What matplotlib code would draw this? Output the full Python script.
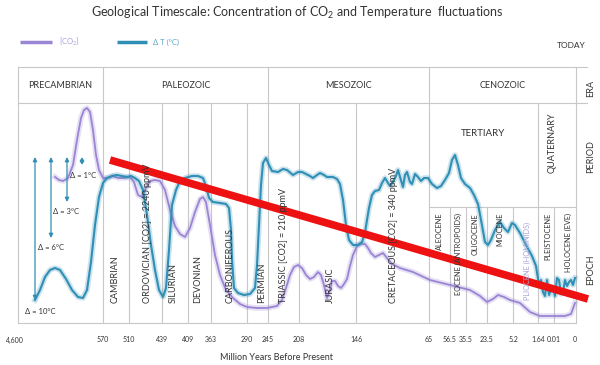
import matplotlib
matplotlib.use("Agg")
import matplotlib.pyplot as plt

plt.rcParams['font.family'] = ['Lato', 'DejaVu Sans']
plt.rcParams['mathtext.fontset'] = 'custom'
plt.rcParams['mathtext.rm'] = 'Lato'
plt.rcParams['mathtext.it'] = 'Lato:italic'

# ---------------- data (chart positions) ----------------
co2_pos = [55, 59, 63, 68, 73, 77, 81, 84, 87, 90, 93, 96, 99, 103, 108, 113, 118, 124, 130, 134,
           138, 142, 146, 150, 155, 160, 165, 170, 175, 180, 185, 190, 195, 200, 203, 206, 210, 215,
           220, 226, 233, 240, 247, 257, 267, 277, 282, 286, 290, 294, 298, 302, 306, 310, 314, 318,
           321, 324, 327, 330, 332, 335, 338, 341, 344, 347, 350, 353, 357, 361, 365, 368, 371, 375,
           379, 383, 387, 392, 400, 413, 430, 450, 470, 480, 487, 493, 498, 504, 510, 520, 530, 540,
           553, 565, 571, 575]
co2_level = [177, 180, 181, 178, 165, 140, 118, 110, 108, 112, 130, 155, 170, 178, 178, 176, 178, 178,
             177, 182, 195, 197, 188, 181, 180, 181, 190, 210, 226, 234, 237, 228, 212, 199, 197, 202,
             225, 255, 275, 290, 298, 304, 307, 308, 308, 306, 300, 288, 275, 267, 265, 268, 275, 279,
             277, 272, 275, 285, 298, 290, 281, 281, 286, 288, 284, 279, 266, 255, 246, 244, 244, 248,
             253, 257, 255, 253, 258, 264, 268, 272, 280, 285, 290, 296, 302, 299, 295, 297, 300, 303,
             312, 316, 316, 316, 314, 303]

temp_pos = [35, 40, 45, 50, 55, 60, 66, 72, 78, 83, 87, 91, 95, 99, 103, 107, 112, 117, 122, 127, 131,
            135, 139, 143, 147, 151, 155, 159, 163, 166, 169, 172, 176, 180, 185, 192, 198, 203, 206,
            209, 213, 220, 226, 229, 231, 232, 234, 238, 244, 250, 255, 257, 259, 261, 263, 266, 269,
            272, 278, 283, 287, 293, 298, 302, 306, 310, 313, 317, 320, 324, 327, 333, 337, 340, 343,
            346, 349, 353, 358, 362, 365, 367, 369, 372, 375, 379, 382, 385, 388, 390, 393, 396, 398,
            401, 403, 405, 407, 410, 412, 415, 418, 421, 424, 428, 432, 437, 441, 445, 449, 452, 455,
            458, 461, 465, 470, 474, 478, 481, 485, 488, 491, 495, 500, 504, 508, 512, 515, 520, 526,
            532, 536, 539, 541, 543, 545, 547, 549, 551, 553, 555, 557, 559, 561, 563, 565, 567, 569,
            571, 573, 575]
temp_level = [300, 290, 277, 270, 268, 270, 279, 290, 297, 298, 290, 262, 225, 197, 183, 178, 176, 175,
              176, 177, 176, 178, 181, 190, 215, 245, 270, 290, 297, 288, 250, 205, 190, 181, 178, 176,
              176, 178, 186, 198, 202, 203, 204, 208, 230, 260, 288, 293, 295, 294, 288, 265, 225, 185,
              163, 158, 165, 171, 172, 169, 170, 175, 172, 172, 174, 176, 178, 175, 173, 175, 177, 177,
              179, 184, 200, 225, 240, 245, 245, 242, 233, 220, 208, 195, 191, 190, 183, 178, 183, 186,
              182, 176, 170, 180, 187, 175, 172, 182, 184, 174, 177, 181, 178, 178, 184, 188, 186, 180,
              173, 160, 155, 165, 178, 184, 188, 195, 204, 220, 242, 245, 240, 230, 222, 228, 232, 223,
              225, 233, 245, 256, 266, 285, 280, 292, 296, 280, 295, 290, 288, 296, 278, 280, 294, 292,
              280, 286, 282, 280, 285, 278]

trend_pos = [110, 588]
trend_level = [160, 299]

tick_labels = ["4,600", "570", "510", "439", "409", "363", "290", "245", "208", "146",
               "65", "56.5", "35.5", "23.5", "5.2", "1.64", "0.01", "0"]
tick_pos = [18, 103, 129, 162, 188, 211, 247, 268, 299, 356, 429, 450, 466, 487, 513, 538, 554, 575]

eras = ["PRECAMBRIAN", "PALEOZOIC", "MESOZOIC", "CENOZOIC"]
era_bounds = [18, 103, 268, 429, 576]

period_lines = [129, 162, 188, 211, 247, 299, 356]
periods = ["CAMBRIAN", "ORDOVICIAN [CO2] = 2240 ppmV", "SILURIAN", "DEVONIAN", "CARBONIFEROUS",
           "PERMIAN", "TRIASSIC [CO2] = 210 ppmV", "JURASIC", "CRETACEOUS [CO2] = 340 ppmV"]
period_label_pos = [115, 147, 173, 198, 230, 262, 283, 330, 393]

epoch_lines = [450, 466, 487, 513, 554]
epochs = ["ALEOCENE", "EOCENE (ANTROPOIDS)", "OLIGOCENE", "MIOCENE", "PLIOCENE (HOMINIDS)",
          "PLEISTOCENE", "HOLOCENE (EVE)"]
epoch_label_pos = [439, 458, 475, 500, 527, 548, 568]

delta_labels = ["Δ = 10°C", "Δ = 6°C", "Δ = 3°C", "Δ = 1°C"]
delta_pos = [35, 51, 67, 82]
delta_bottom = [300, 238, 202, 165]

# ---------------- styling ----------------
TEAL = "#2f8fb5"
PURPLE = "#9a84d4"
GRID = "#c8c8c8"
TXT = "#333333"

fig = plt.figure(figsize=(6.0, 3.65), dpi=100)
ax = fig.add_axes([0, 0, 1, 1])
ax.set_xlim(0, 600)
ax.set_ylim(365, 0)
ax.axis('off')

# title
ax.text(297, 13, r"Geological Timescale: Concentration of CO$_\mathrm{2}$ and Temperature  fluctuations",
        ha='center', va='center', fontsize=9, color=TXT)

# legend
ax.plot([20, 52], [42, 42], color=PURPLE, lw=2.5, solid_capstyle='butt')
ax.text(59, 42, r"[CO$_\mathrm{2}$]", fontsize=5.5, color="#a9a0d8", va='center')
ax.plot([117, 147], [42, 42], color=TEAL, lw=2.5, solid_capstyle='butt')
ax.text(153, 42, "Δ T (°C)", fontsize=5.5, color="#5aa8c8", va='center')
ax.text(571, 45, "TODAY", fontsize=6, color=TXT, ha='center', va='center')

# frame
ax.plot([18, 587], [67, 67], color=GRID, lw=0.8)
ax.plot([18, 587], [103, 103], color=GRID, lw=0.8)
ax.plot([18, 576], [323, 323], color=GRID, lw=0.8)
ax.plot([429, 576], [207, 207], color=GRID, lw=0.8)
for xb in era_bounds:
    ax.plot([xb, xb], [67, 323], color=GRID, lw=0.8)
for xb in period_lines:
    ax.plot([xb, xb], [103, 323], color=GRID, lw=0.8)
ax.plot([538, 538], [103, 323], color=GRID, lw=0.8)
for xb in epoch_lines:
    ax.plot([xb, xb], [207, 323], color=GRID, lw=0.8)

# era labels
for name, a, b in zip(eras, era_bounds[:-1], era_bounds[1:]):
    ax.text((a + b) / 2, 86, name, fontsize=6.5, color=TXT, ha='center', va='center')
ax.text(591, 88, "ERA", fontsize=6.5, color=TXT, rotation=90, ha='center', va='center')
ax.text(591, 157, "PERIOD", fontsize=6.5, color=TXT, rotation=90, ha='center', va='center')
ax.text(591, 270, "EPOCH", fontsize=6.5, color=TXT, rotation=90, ha='center', va='center')
ax.text(483, 133, "TERTIARY", fontsize=7, color=TXT, ha='center', va='center')
ax.text(552, 143, "QUATERNARY", fontsize=6.5, color=TXT, rotation=90, ha='center', va='center')

# period labels
for name, xp in zip(periods, period_label_pos):
    ax.text(xp, 303, name, fontsize=6.5, color=TXT, rotation=90, ha='center', va='bottom')

# epoch labels
for name, xp in zip(epochs, epoch_label_pos):
    if name.startswith("EOCENE"):
        ax.text(xp, 295, name, fontsize=5.3, color=TXT, rotation=90, ha='center', va='bottom')
    elif name.startswith("PLIOCENE"):
        ax.text(xp, 300, name, fontsize=5.3, color="#aaa4d8", rotation=90, ha='center', va='bottom')
    else:
        ax.text(xp, 213, name, fontsize=5.3, color=TXT, rotation=90, ha='center', va='top')

# x tick labels
for lab, xp in zip(tick_labels, tick_pos):
    xx = xp - 3 if lab == "4,600" else xp
    ax.text(xx, 340, lab, fontsize=5, color=TXT, ha='center', va='center')
ax.text(277, 358, "Million Years Before Present", fontsize=6.5, color=TXT, ha='center', va='center')

# delta arrows
for lab, xp, yb in zip(delta_labels, delta_pos, delta_bottom):
    ax.annotate("", xy=(xp, 157), xytext=(xp, yb),
                arrowprops=dict(arrowstyle='<|-|>', color=TEAL, lw=0.9,
                                mutation_scale=6, shrinkA=0, shrinkB=0))
ax.text(40, 312, delta_labels[0], fontsize=5.5, color=TXT, ha='center', va='center')
ax.text(51, 248, delta_labels[1], fontsize=5.5, color=TXT, ha='center', va='center')
ax.text(66, 212, delta_labels[2], fontsize=5.5, color=TXT, ha='center', va='center')
ax.text(83, 176, delta_labels[3], fontsize=5.5, color=TXT, ha='center', va='center')

# curves with soft glow
ax.plot(co2_pos, co2_level, color=PURPLE, lw=4, alpha=0.25, solid_joinstyle='round')
ax.plot(co2_pos, co2_level, color=PURPLE, lw=1.3, solid_joinstyle='round')
ax.plot(temp_pos, temp_level, color=TEAL, lw=4, alpha=0.25, solid_joinstyle='round')
ax.plot(temp_pos, temp_level, color=TEAL, lw=1.5, solid_joinstyle='round')

# trend line
ax.plot(trend_pos, trend_level, color="#ee1111", lw=5.5, solid_capstyle='butt')

fig.savefig("out.png", dpi=100)
